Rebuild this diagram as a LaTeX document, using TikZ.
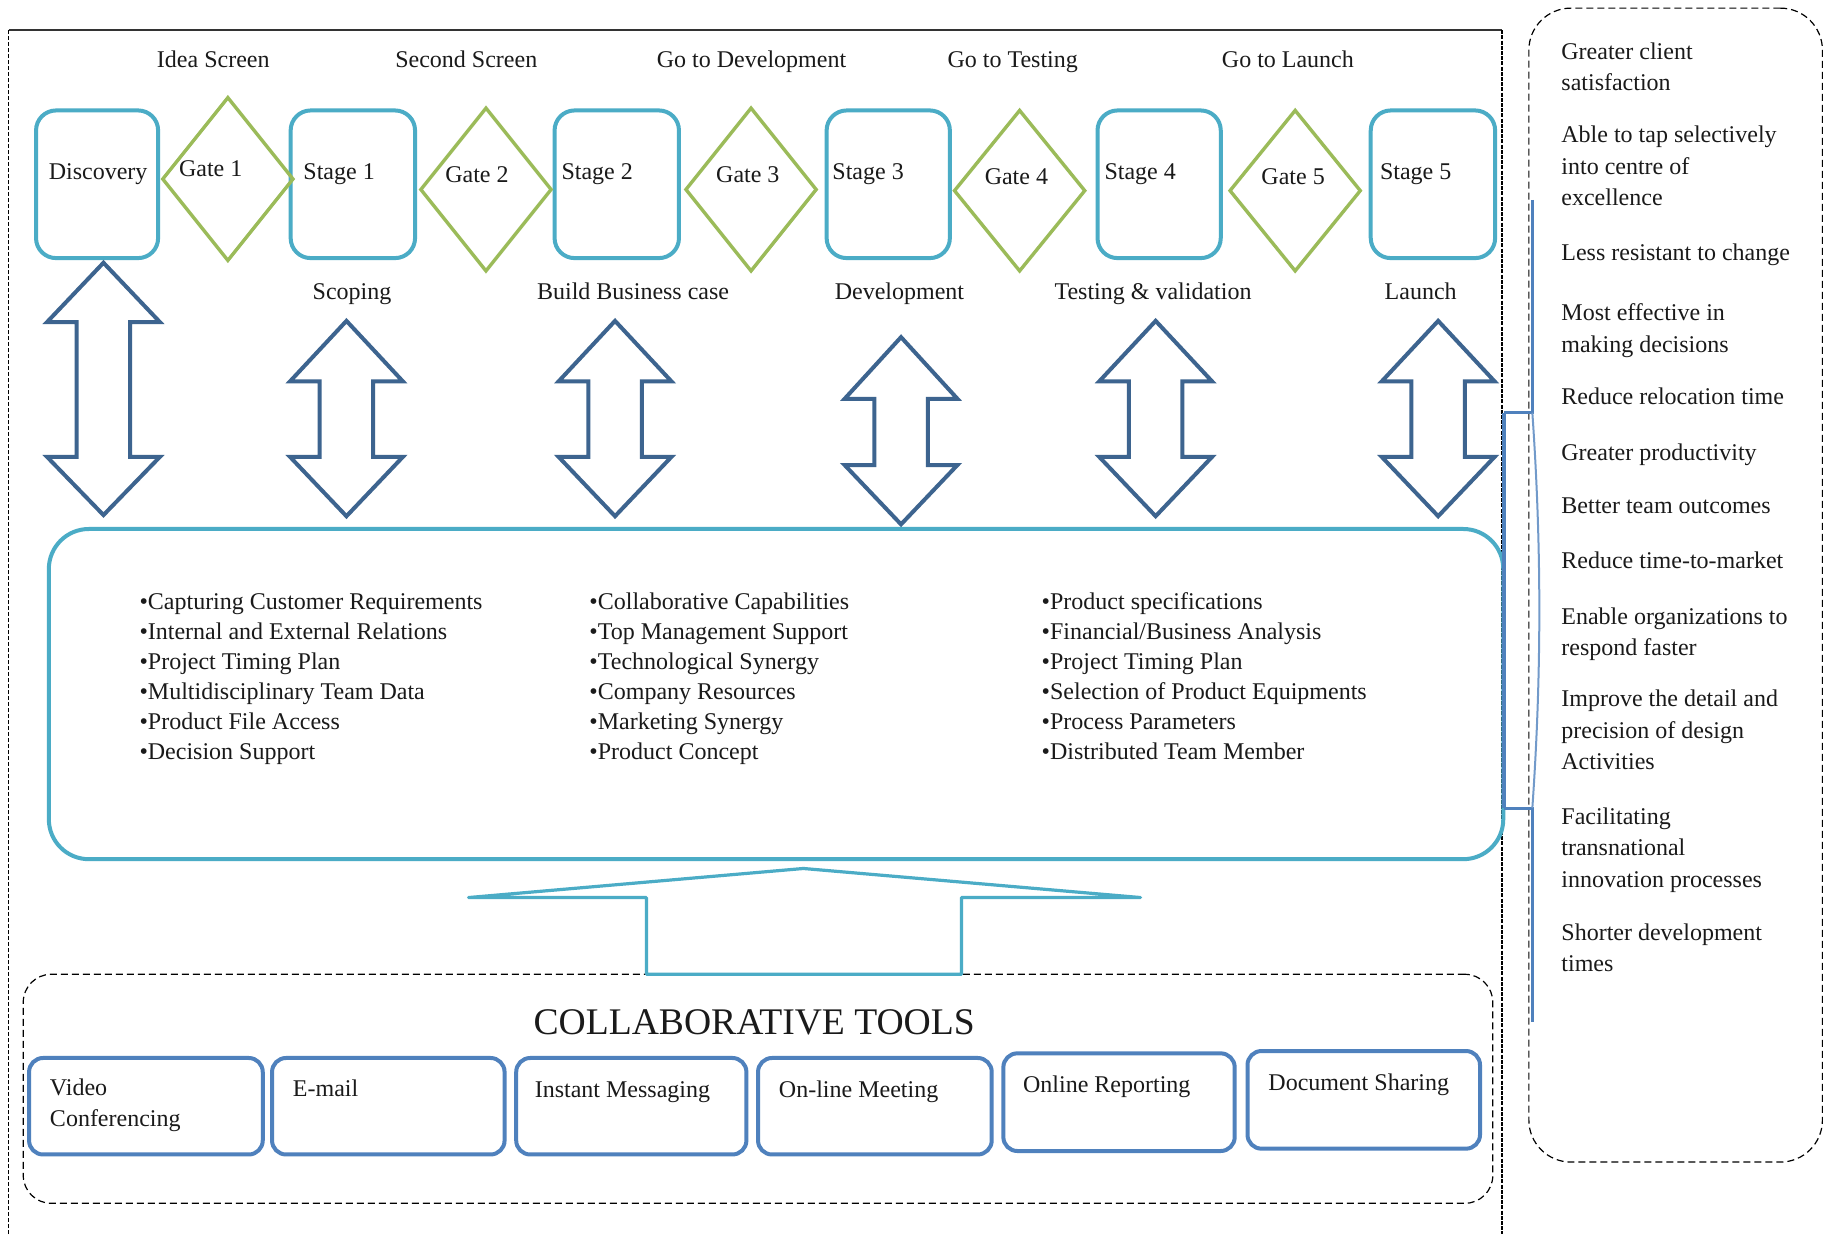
\documentclass[tikz,border=0pt]{standalone}
\usepackage{fontspec}
\setmainfont{Liberation Serif}
\usetikzlibrary{shapes.geometric,fit}
\definecolor{stagecol}{HTML}{4BACC6}
\definecolor{gatecol}{HTML}{9BBB59}
\definecolor{arrowcol}{HTML}{3D648F}
\definecolor{toolcol}{HTML}{4F81BD}
\definecolor{inkcol}{HTML}{1A1A1A}
\newcommand{\uu}{0.58131pt}
\tikzset{
  stagebox/.style={draw=stagecol,line width=2pt,rounded corners=10pt,inner sep=0pt,outer sep=0pt},
  gatebox/.style={diamond,draw=gatecol,line width=1.7pt,inner sep=0pt,outer sep=0pt,aspect=1,minimum width=112*\uu,minimum height=140*\uu},
  bigbox/.style={draw=stagecol,line width=2pt,rounded corners=20pt,inner sep=0pt,outer sep=0pt},
  toolbox/.style={draw=toolcol,line width=2pt,rounded corners=7pt,inner sep=0pt,outer sep=0pt},
  dashbox/.style={draw=black,line width=0.6pt,dash pattern=on 3.5pt off 2pt,inner sep=0pt,outer sep=0pt},
  arrowshape/.style={draw=arrowcol,line width=2pt,fill=white,miter limit=10},
  upshape/.style={draw=stagecol,line width=1.6pt,fill=white,line join=round},
  txt/.style={anchor=base west,inner sep=0pt,outer sep=0pt,text=inkcol,font=\fontsize{12}{15.7}\selectfont,align=left},
  list/.style={txt,font=\fontsize{12}{15}\selectfont},
}
\newcommand{\dblarrow}[5]{% centre x, tip, upper base, lower base, bottom
  \draw[arrowshape] (#1,#2+2) -- (#1+48.5,#3) -- (#1+23,#3) -- (#1+23,#4) -- (#1+48.5,#4) -- (#1,#5-2)
    -- (#1-48.5,#4) -- (#1-23,#4) -- (#1-23,#3) -- (#1-48.5,#3) -- cycle;}
\begin{document}
\begin{tikzpicture}[x=\uu,y=-\uu]
\useasboundingbox (0,0) rectangle (1568,1061.4);
\fill[white] (0,0) rectangle (1568,1061.4);

% outer frame (open at the bottom)
\draw[black,line width=0.7pt,dash pattern=on 2pt off 1pt] (7.5,1061.4) -- (7.5,26);
\draw[black!80,line width=1pt] (7.5,26) -- (1292,26);
\draw[black,line width=1pt,dash pattern=on 2pt off 0.6pt] (1292,26) -- (1292,1061.4);

% right panel
\node[dashbox,rounded corners=21pt,fit={(1315,7)(1567.5,999.5)}] (panel) {};

% stages
\node[stagebox,fit={(31,95)(136,222)}] (disc) {};
\node[stagebox,fit={(250,95)(357,222)}] (s1) {};
\node[stagebox,fit={(477,95)(584,222)}] (s2) {};
\node[stagebox,fit={(711,95)(817,222)}] (s3) {};
\node[stagebox,fit={(944,95)(1050,222)}] (s4) {};
\node[stagebox,fit={(1179,95)(1286,222)}] (s5) {};

% gates
\node[gatebox] (g1) at (196,154) {};
\node[gatebox] (g2) at (418,163) {};
\node[gatebox] (g3) at (646,163) {};
\node[gatebox,minimum height=138*\uu] (g4) at (877,164) {};
\node[gatebox,minimum height=138*\uu] (g5) at (1114,164) {};

% double arrows
\dblarrow{89}{224}{277}{393}{445}
\dblarrow{298}{274}{328}{393}{446}
\dblarrow{529}{274}{328}{393}{446}
\dblarrow{775}{288}{343}{400}{453}
\dblarrow{994}{274}{328}{393}{446}
\dblarrow{1237}{274}{328}{393}{446}

% main box
\node[bigbox,fit={(42,455)(1293,739)}] (main) {};

% tools
\node[dashbox,rounded corners=14pt,fit={(20,838)(1284,1035)}] (toolarea) {};
\draw[upshape] (691,747) -- (981,772) -- (827,772) -- (827,838) -- (556,838) -- (556,772) -- (403,772) -- cycle;
\node[toolbox,fit={(25,910)(226,993)}] (t1) {};
\node[toolbox,fit={(234,910)(434,993)}] (t2) {};
\node[toolbox,fit={(444,910)(642,993)}] (t3) {};
\node[toolbox,fit={(652,910)(853,993)}] (t4) {};
\node[toolbox,fit={(863,906)(1062,990)}] (t5) {};
\node[toolbox,fit={(1073,904)(1273,988)}] (t6) {};

% bracket between main box and right panel
\coordinate (brTop) at (1318,172);
\coordinate (brA) at (1294,355);
\coordinate (brA2) at (1318,355);
\coordinate (brB) at (1294,695);
\coordinate (brB2) at (1318,695);
\coordinate (brEnd) at (1318,879);
\draw[toolcol,line width=1.5pt] (brTop) -- (brA2) -- (brA);
\draw[toolcol,line width=1.5pt] (brEnd) -- (brB2) -- (brB);
\draw[toolcol!80,line width=1pt] (brA2) .. controls (1326,470) and (1326,580) .. (brB2);
\draw[toolcol,line width=2pt] (brA) -- (brB);

% gate decisions
\node[txt] (l1) at (135,58) {Idea Screen};
\node[txt] (l2) at (340,58) {Second Screen};
\node[txt] (l3) at (565,58) {Go to Development};
\node[txt] (l4) at (815,58) {Go to Testing};
\node[txt] (l5) at (1051,58) {Go to Launch};

% box labels
\node[txt] (tdisc) at (42,154) {Discovery};
\node[txt] (tg1) at (154,152) {Gate 1};
\node[txt] (ts1) at (261,154) {Stage 1};
\node[txt] (tg2) at (383,157) {Gate 2};
\node[txt] (ts2) at (483,154) {Stage 2};
\node[txt] (tg3) at (616,157) {Gate 3};
\node[txt] (ts3) at (716,154) {Stage 3};
\node[txt] (tg4) at (847,159) {Gate 4};
\node[txt] (ts4) at (950,154) {Stage 4};
\node[txt] (tg5) at (1085,159) {Gate 5};
\node[txt] (ts5) at (1187,154) {Stage 5};

% stage names
\node[txt] (n1) at (269,258) {Scoping};
\node[txt] (n2) at (462,258) {Build Business case};
\node[txt] (n3) at (718,258) {Development};
\node[txt] (n4) at (907,258) {Testing \& validation};
\node[txt] (n5) at (1191,258) {Launch};

% lists
\node[list] (c1) at (120,653) {•Capturing Customer Requirements\\•Internal and External Relations\\•Project Timing Plan\\•Multidisciplinary Team Data\\•Product File  Access\\•Decision Support};
\node[list] (c2) at (507,653) {•Collaborative Capabilities\\•Top Management Support\\•Technological Synergy\\•Company Resources\\•Marketing Synergy\\•Product Concept};
\node[list] (c3) at (896,653) {•Product specifications\\•Financial/Business Analysis\\•Project Timing Plan\\•Selection of Product Equipments\\•Process Parameters\\•Distributed Team Member};

% tool labels
\node[txt,font=\fontsize{18.8}{22}\selectfont] (ct) at (459,890) {COLLABORATIVE TOOLS};
\node[txt] (tt1) at (43,969) {Video\\Conferencing};
\node[txt] (tt2) at (252,943) {E-mail};
\node[txt] (tt3) at (460,944) {Instant Messaging};
\node[txt] (tt4) at (670,944) {On-line Meeting};
\node[txt] (tt5) at (880,940) {Online Reporting};
\node[txt] (tt6) at (1091,938) {Document Sharing};

% benefits
\node[txt] (b1) at (1343,78) {Greater client\\satisfaction};
\node[txt] (b2) at (1343,177) {Able to tap selectively\\into centre of\\excellence};
\node[txt] (b3) at (1343,224) {Less resistant to change};
\node[txt] (b4) at (1343,303) {Most effective in\\making decisions};
\node[txt] (b5) at (1343,348) {Reduce relocation time};
\node[txt] (b6) at (1343,396) {Greater productivity};
\node[txt] (b7) at (1343,442) {Better team outcomes};
\node[txt] (b8) at (1343,489) {Reduce time-to-market};
\node[txt] (b9) at (1343,564) {Enable organizations to\\respond faster};
\node[txt] (b10) at (1343,662) {Improve the detail and\\precision of design\\Activities};
\node[txt] (b11) at (1343,763) {Facilitating\\transnational\\innovation processes};
\node[txt] (b12) at (1343,836) {Shorter development\\times};
\end{tikzpicture}
\end{document}
